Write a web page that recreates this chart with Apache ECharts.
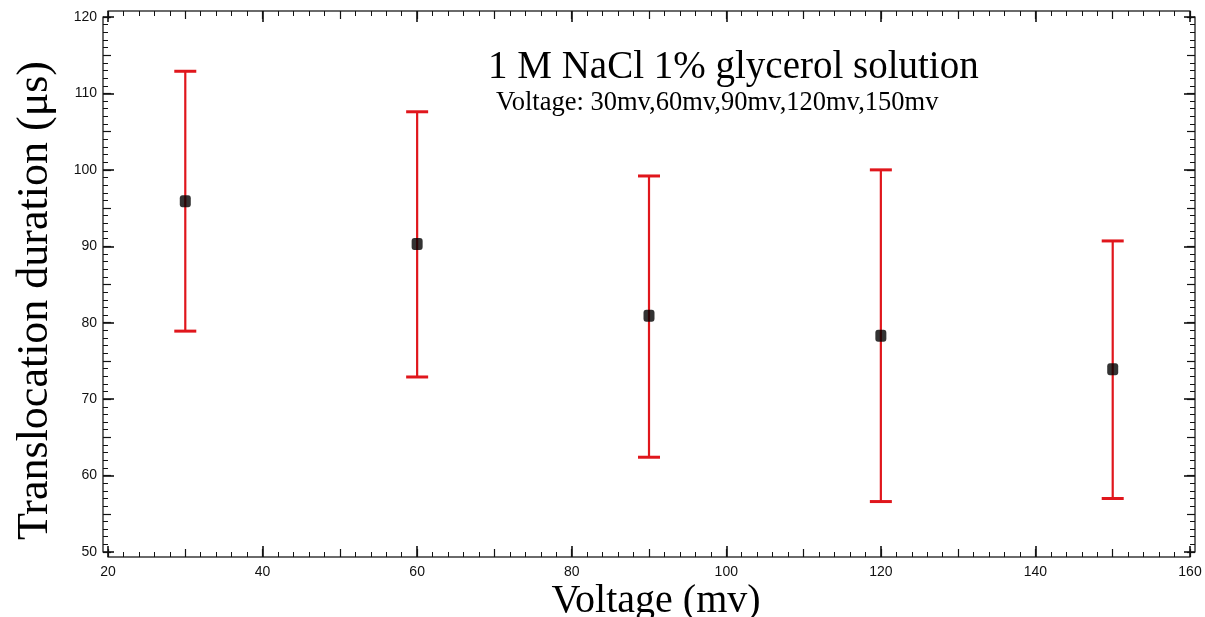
<!DOCTYPE html>
<html>
<head>
<meta charset="utf-8">
<script src="https://cdn.jsdelivr.net/npm/echarts@6/dist/echarts.min.js"></script>
<style>
  html, body { margin: 0; padding: 0; background: #fff; }
  #chart { width: 1205px; height: 617px; }
</style>
</head>
<body>
<div id="chart"></div>
<script>
// voltage (mV) and translocation duration (us)
const voltages = [30, 60, 90, 120, 150]
const meanDuration = [95.9, 90.3, 80.9, 78.3, 73.9]
const upperDuration = [112.9, 107.6, 99.2, 100.0, 90.7]
const lowerDuration = [78.9, 72.9, 62.4, 56.6, 57.0]

const titleText = "1 M NaCl 1% glycerol solution"
const subtitleText = "Voltage: 30mv,60mv,90mv,120mv,150mv"

const serif = "'Liberation Serif', 'DejaVu Serif', serif"
const sans = "'Liberation Sans', Arial, sans-serif"
const frameColor = "#3a3a3a"
const tickColor = "#111"
const barColor = "#e0161c"

const points = voltages.map((v, i) => [v, meanDuration[i]])
const bars = voltages.map((v, i) => [v, lowerDuration[i], upperDuration[i]])

// one axis edge of the frame; kind = "major" (labels + minor ticks) or "mid"
function xEdge(position, kind) {
  const major = kind === "major"
  return {
    type: "value",
    position: position,
    min: 20,
    max: 160,
    interval: major ? 20 : 10,
    offset: position === "top" ? 6 : 5,
    axisLine: { show: major, lineStyle: { color: frameColor, width: 1.5 } },
    axisTick: { show: true, inside: true, length: major ? 11 : 8, lineStyle: { color: tickColor, width: major ? 1.6 : 1.2 } },
    minorTick: { show: major, splitNumber: 10, length: 5, lineStyle: { color: tickColor, width: 1 } },
    axisLabel: { show: major && position === "bottom", margin: 8, color: "#111", fontFamily: sans, fontSize: 14 },
    splitLine: { show: false }
  }
}

function yEdge(position, kind) {
  const major = kind === "major"
  return {
    type: "value",
    position: position,
    min: 50,
    max: 120,
    interval: major ? 10 : 5,
    offset: 5,
    axisLine: { show: major, lineStyle: { color: frameColor, width: 1.5 } },
    axisTick: { show: true, inside: true, length: major ? 11 : 8, lineStyle: { color: tickColor, width: major ? 1.6 : 1.2 } },
    minorTick: { show: major, splitNumber: 10, length: 5, lineStyle: { color: tickColor, width: 1 } },
    axisLabel: { show: major && position === "left", margin: 6, color: "#111", fontFamily: sans, fontSize: 14 },
    splitLine: { show: false }
  }
}

const xBottom = xEdge("bottom", "major")
xBottom.name = "Voltage (mv)"
xBottom.nameLocation = "middle"
xBottom.nameMoveOverlap = false
xBottom.nameGap = 24
xBottom.nameTextStyle = { fontFamily: serif, fontSize: 40, color: "#000", padding: [0, 0, 0, 14] }

const yLeft = yEdge("left", "major")
yLeft.name = "Translocation duration (\u03bcs)"
yLeft.nameLocation = "middle"
yLeft.nameMoveOverlap = false
yLeft.nameGap = 46
yLeft.nameTextStyle = { fontFamily: serif, fontSize: 44, color: "#000", padding: [0, 32, 0, 0] }

const chart = echarts.init(document.getElementById("chart"))
chart.setOption({
  backgroundColor: "#fff",
  animation: false,
  title: [
    { text: titleText, left: 488, top: 48, padding: 0, textStyle: { fontFamily: serif, fontSize: 39, fontWeight: "normal", color: "#000" } },
    { text: subtitleText, left: 496, top: 90, padding: 0, textStyle: { fontFamily: serif, fontSize: 26.5, fontWeight: "normal", color: "#000" } }
  ],
  grid: { left: 108, right: 15, top: 17, bottom: 65, outerBoundsMode: "none" },
  xAxis: [xBottom, xEdge("top", "major"), xEdge("bottom", "mid"), xEdge("top", "mid")],
  yAxis: [yLeft, yEdge("right", "major"), yEdge("left", "mid"), yEdge("right", "mid")],
  series: [
    {
      type: "custom",
      xAxisIndex: 0,
      yAxisIndex: 0,
      data: bars,
      renderItem: function (params, api) {
        const top = api.coord([api.value(0), api.value(2)])
        const bottom = api.coord([api.value(0), api.value(1)])
        const half = 11
        return {
          type: "group",
          children: [
            { type: "line", shape: { x1: top[0], y1: top[1], x2: bottom[0], y2: bottom[1] }, style: { stroke: barColor, lineWidth: 2.2 } },
            { type: "line", shape: { x1: top[0] - half, y1: top[1], x2: top[0] + half, y2: top[1] }, style: { stroke: barColor, lineWidth: 3 } },
            { type: "line", shape: { x1: bottom[0] - half, y1: bottom[1], x2: bottom[0] + half, y2: bottom[1] }, style: { stroke: barColor, lineWidth: 3 } }
          ]
        }
      },
      z: 2
    },
    {
      type: "scatter",
      xAxisIndex: 0,
      yAxisIndex: 0,
      data: points,
      symbol: "roundRect",
      symbolSize: [11, 12],
      itemStyle: { color: "#000" },
      z: 3
    }
  ]
})
</script>
</body>
</html>
